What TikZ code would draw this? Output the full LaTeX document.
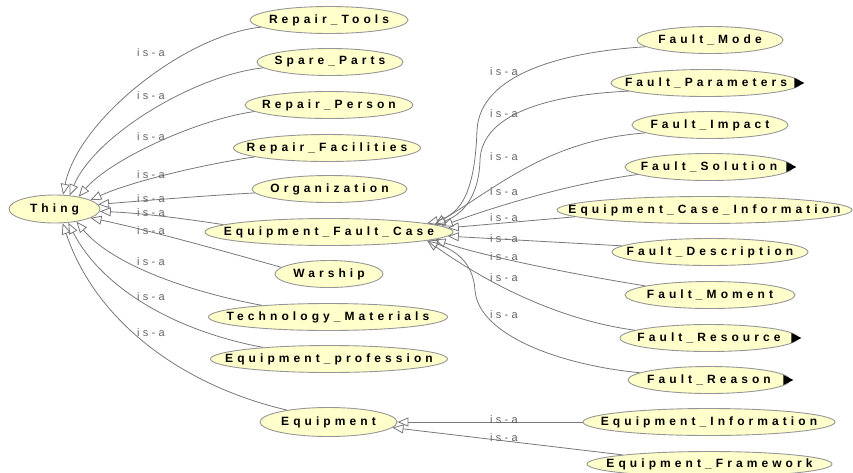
\documentclass[tikz,border=0pt]{standalone}
\usepackage{fontspec}
\usetikzlibrary{shapes.geometric,arrows.meta}
\newfontfamily\nodefont[LetterSpace=34]{Liberation Sans}
\newfontfamily\labfont[LetterSpace=30]{Liberation Sans}
\definecolor{clsfill}{RGB}{255,255,204}
\definecolor{clsline}{RGB}{150,150,150}
\definecolor{edgecol}{RGB}{120,120,120}
\definecolor{labcol}{RGB}{100,100,100}
\newcommand\ctext[1]{\makebox[0pt]{#1}}
\tikzset{
 cls/.style={ellipse, draw=clsline, fill=clsfill, line width=0.9pt, inner sep=0pt, minimum height=27pt,
   font=\nodefont\bfseries\fontsize{12}{14}\selectfont},
 isa/.style={anchor=west, inner sep=0pt, text=labcol, font=\labfont\fontsize{11}{13}\selectfont},
 edge/.style={draw=edgecol, line width=0.8pt, -{Triangle[open,length=11pt,width=9pt]}},
 more/.style={fill=black}
}
\begin{document}
\begin{tikzpicture}[x=1pt,y=1pt]
\useasboundingbox (0,0) rectangle (853,-472);
% nodes
\node[cls, minimum width=91pt, minimum height=28pt] (Thing) at (54.5,-209) {\ctext{Thing}};
\node[cls, minimum width=158pt] (RT) at (329,-20) {\ctext{Repair\_Tools}};
\node[cls, minimum width=146pt] (SP) at (330,-62) {\ctext{Spare\_Parts}};
\node[cls, minimum width=168pt] (RP) at (329,-105) {\ctext{Repair\_Person}};
\node[cls, minimum width=187pt] (RF) at (327,-148) {\ctext{Repair\_Facilities}};
\node[cls, minimum width=155pt] (Org) at (329.5,-189) {\ctext{Organization}};
\node[cls, minimum width=248pt] (EFC) at (329,-232) {\ctext{Equipment\_Fault\_Case}};
\node[cls, minimum width=108pt] (Warship) at (329,-274) {\ctext{Warship}};
\node[cls, minimum width=239pt] (TM) at (328,-317) {\ctext{Technology\_Materials}};
\node[cls, minimum width=237pt] (EP) at (329,-359) {\ctext{Equipment\_profession}};
\node[cls, minimum width=137pt, minimum height=29pt] (Equip) at (328.5,-422) {\ctext{Equipment}};
\node[cls, minimum width=146pt] (FM) at (710,-40) {\ctext{Fault\_Mode}};
\node[cls, minimum width=190pt] (FP) at (706,-83) {\ctext{Fault\_Parameters}};
\node[cls, minimum width=156pt] (FI) at (710,-125) {\ctext{Fault\_Impact}};
\node[cls, minimum width=168pt] (FS) at (709,-167) {\ctext{Fault\_Solution}};
\node[cls, minimum width=295pt] (ECI) at (704.5,-210) {\ctext{Equipment\_Case\_Information}};
\node[cls, minimum width=196pt] (FD) at (710,-252) {\ctext{Fault\_Description}};
\node[cls, minimum width=170pt] (FMo) at (710,-295) {\ctext{Fault\_Moment}};
\node[cls, minimum width=178pt] (FRes) at (709,-338) {\ctext{Fault\_Resource}};
\node[cls, minimum width=162pt] (FRe) at (709,-380) {\ctext{Fault\_Reason}};
\node[cls, minimum width=252pt] (EI) at (709,-422) {\ctext{Equipment\_Information}};
\node[cls, minimum width=245pt, minimum height=25pt] (EF) at (709.5,-464) {\ctext{Equipment\_Framework}};
% more markers
\foreach \n in {FP,FS,FRes,FRe}{
  \fill[more] (\n.east) ++(-7,5) -- ++(0,-10) -- ++(10,5) -- cycle;
}
% edges to Thing
\draw[edge] (RT.186) .. controls (185,-35) and (78,-120) .. (Thing.59);
\draw[edge] (SP.185) .. controls (195,-75) and (95,-135) .. (Thing.42);
\draw[edge] (RP.185) .. controls (195,-120) and (110,-160) .. (Thing.27);
\draw[edge] (RF.187) .. controls (200,-165) and (130,-182) .. (Thing.14);
\draw[edge] (Org.183) .. controls (200,-196) and (140,-201) .. (Thing.6);
\draw[edge] (EFC.176) .. controls (180,-218) and (140,-213) .. (Thing.-3);
\draw[edge] (Warship.172) .. controls (220,-250) and (140,-228) .. (Thing.-14);
\draw[edge] (TM.170) .. controls (180,-290) and (110,-262) .. (Thing.-30);
\draw[edge] (EP.170) .. controls (170,-330) and (100,-285) .. (Thing.-45);
\draw[edge] (Equip.164) .. controls (180,-385) and (95,-320) .. (Thing.-60);
% edges to Equipment_Fault_Case
\draw[edge] (FM.186) .. controls (560,-52) and (480,-75) .. (477,-130) .. controls (475,-190) and (462,-214) .. (EFC.5.2);
\draw[edge] (FP.186) .. controls (545,-95) and (482,-115) .. (480,-160) .. controls (479,-195) and (464,-214) .. (EFC.4.8);
\draw[edge] (FI.187) .. controls (550,-140) and (500,-185) .. (EFC.4);
\draw[edge] (FS.186) .. controls (560,-185) and (480,-212) .. (EFC.3.4);
\draw[edge] (ECI.183) -- (EFC.2.5);
\draw[edge] (FD.176.5) -- (EFC.-2.5);
\draw[edge] (FMo.172) .. controls (560,-272) and (480,-255) .. (EFC.-4.2);
\draw[edge] (FRes.174) .. controls (560,-320) and (490,-285) .. (EFC.-5);
\draw[edge] (FRe.174) .. controls (560,-365) and (478,-335) .. (475,-290) .. controls (473,-262) and (455,-250) .. (EFC.-5.5);
% edges to Equipment
\draw[edge] (EI.180) -- (Equip.0);
\draw[edge] (EF.174) -- (Equip.-5);
% labels
\node[isa] (t1) at (137,-53) {is-a};
\node[isa] (t2) at (137,-96) {is-a};
\node[isa] (t3) at (137,-137) {is-a};
\node[isa] (t4) at (137,-175) {is-a};
\node[isa] (t5) at (137,-199) {is-a};
\node[isa] (t6) at (137,-213) {is-a};
\node[isa] (t7) at (137,-231) {is-a};
\node[isa] (t8) at (137,-262) {is-a};
\node[isa] (t9) at (137,-297) {is-a};
\node[isa] (t10) at (137,-333) {is-a};
\node[isa] (f1) at (490,-72) {is-a};
\node[isa] (f2) at (490,-114) {is-a};
\node[isa] (f3) at (490,-157) {is-a};
\node[isa] (f4) at (490,-192) {is-a};
\node[isa] (f5) at (490,-218) {is-a};
\node[isa] (f6) at (490,-239) {is-a};
\node[isa] (f7) at (490,-257) {is-a};
\node[isa] (f8) at (490,-278) {is-a};
\node[isa] (f9) at (490,-315) {is-a};
\node[isa] (e1) at (490,-420) {is-a};
\node[isa] (e2) at (490,-438) {is-a};
\end{tikzpicture}
\end{document}
